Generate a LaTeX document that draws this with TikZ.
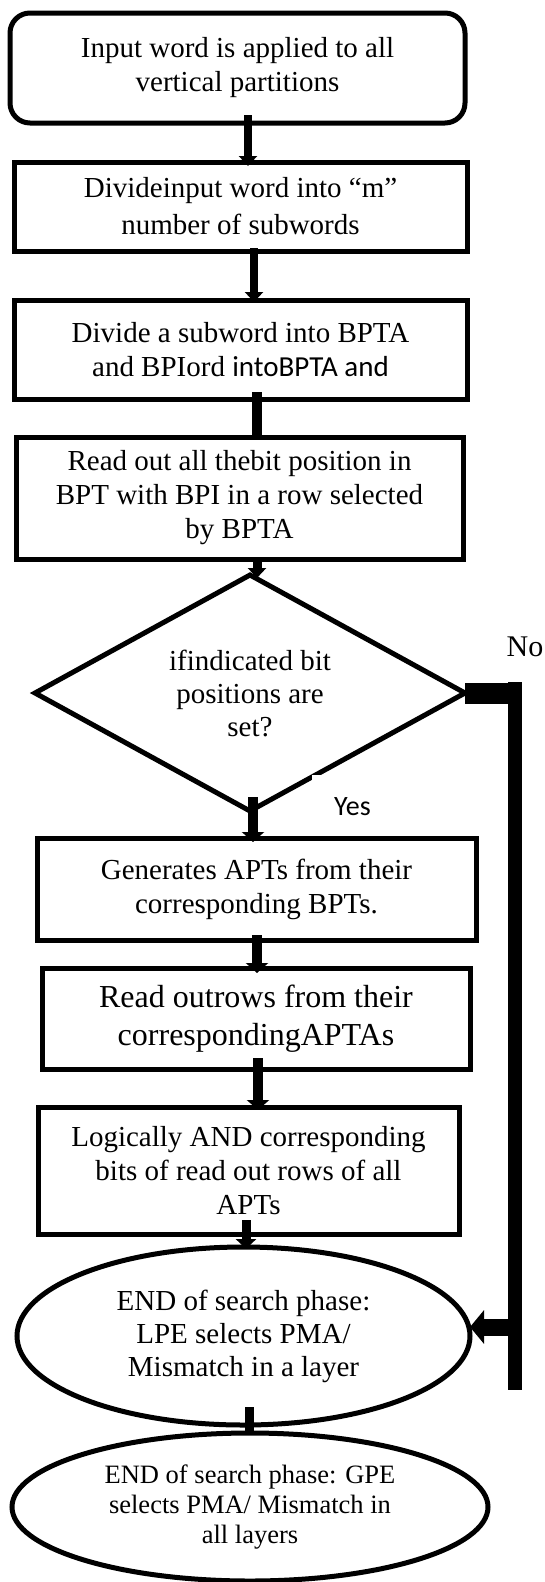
\documentclass[tikz,border=0pt]{standalone}
\usepackage{fontspec}
\setmainfont{Liberation Serif}
\newfontfamily\carlito{Carlito}
\usetikzlibrary{shapes.geometric,arrows.meta}
\begin{document}
\begin{tikzpicture}[x=1pt,y=-1pt,
  box/.style={draw, line width=5pt, rectangle, inner sep=0pt, outer sep=0pt, align=center, font=\fontsize{29}{34}\selectfont},
  dec/.style={diamond, draw, line width=5pt, aspect=1.82, minimum width=430pt, minimum height=236pt, inner sep=0pt, outer sep=0pt, align=center, font=\fontsize{29}{33}\selectfont},
  ell/.style={ellipse, draw, line width=5pt, inner sep=0pt, outer sep=0pt, align=center, font=\fontsize{29}{33}\selectfont},
  yeslbl/.style={anchor=north west, fill=white, inner xsep=22pt, inner ysep=20pt, text height=20pt, text depth=0pt, font=\carlito\fontsize{28}{28}\selectfont},
  nolbl/.style={inner sep=0pt, font=\fontsize{30}{30}\selectfont},
  conn/.style={line width=#1, -{Triangle[width=18pt,length=10pt]}},
  connbig/.style={line width=10pt, -{Triangle[width=22pt,length=10pt]}},
  plainconn/.style={line width=#1},
  nobranch/.style={line width=14pt}
]
\useasboundingbox (0,0) rectangle (545,1582);

\node[box, rounded corners=20pt, minimum width=455pt, minimum height=110pt] (top) at (237.5,68) {Input word is applied to all\\vertical partitions};
\node[box, minimum width=453pt, minimum height=89pt, font=\fontsize{29}{37}\selectfont] (b2) at (240.5,206.5) {Divideinput word into “m”\\number of subwords};
\node[box, minimum width=453pt, minimum height=99pt] (b3) at (240.5,349.5) {Divide a subword into BPTA\\and BPIord {\carlito intoBPTA and}};
\node[box, minimum width=447pt, minimum height=122pt] (b4) at (239.5,498) {Read out all thebit position in\\BPT with BPI in a row selected\\by BPTA};
\node[dec] (dia) at (250,693) {ifindicated bit\\positions are\\set?};
\node[yeslbl] (yes) at (312,775) {Yes};
\node[nolbl] (no) at (525,647) {No};
\node[box, minimum width=439pt, minimum height=102pt] (gen) at (256.5,889) {Generates APTs from their\\corresponding BPTs.};
\node[box, minimum width=428pt, minimum height=101pt, font=\fontsize{32}{38}\selectfont] (rr) at (256,1018.5) {Read outrows from their\\correspondingAPTAs};
\node[box, minimum width=421pt, minimum height=127pt] (land) at (248.5,1170.5) {Logically AND corresponding\\bits of read out rows of all\\APTs};
\node[ell, minimum width=453pt, minimum height=178pt] (e1) at (243.5,1336) {END of search phase:\\LPE selects PMA/\\Mismatch in a layer};
\node[ell, minimum width=476pt, minimum height=148pt, font=\fontsize{26.5}{30}\selectfont] (e2) at (250,1507) {END of search phase: GPE\\selects PMA/ Mismatch in\\all layers};

% vertical connectors
\draw[conn=8pt] ([xshift=10.5pt,yshift=8pt]top.south) -- ([xshift=7.5pt,yshift=-4pt]b2.north);
\draw[conn=8pt] ([xshift=13.5pt,yshift=3pt]b2.south) -- ([xshift=13.5pt,yshift=-2pt]b3.north);
\draw[plainconn=10pt] ([xshift=16.5pt,yshift=7pt]b3.south) -- ([xshift=17.5pt]b4.north);
\draw[conn=9pt] ([xshift=17.5pt]b4.south) -- ([xshift=7pt,yshift=-3pt]dia.north);
\draw[connbig] ([xshift=3pt,yshift=14pt]dia.south) -- ([xshift=-3.5pt,yshift=-4pt]gen.north);
\draw[connbig] ([xshift=0.5pt,yshift=5pt]gen.south) -- ([xshift=1pt,yshift=-5pt]rr.north);
\draw[connbig] ([xshift=2pt,yshift=11pt]rr.south) -- ([xshift=9.5pt,yshift=-3pt]land.north);
\draw[line width=9pt, -{Triangle[width=20pt,length=10pt]}] ([xshift=-2.5pt,yshift=14pt]land.south) -- ([xshift=2.5pt,yshift=-2pt]e1.north);
\draw[plainconn=9pt] ([xshift=5.5pt,yshift=18pt]e1.south) -- ([xshift=-1pt,yshift=-2pt]e2.north);

% No branch
\coordinate (ncorner) at (522,693);
\coordinate (ntop) at (515,682);
\coordinate (nbot) at (515,1390);
\coordinate (nbranch) at (515,1327);
\draw[line width=21pt] (dia.east) -- (ncorner);
\draw[nobranch] (ntop) -- (nbot);
\draw[line width=17pt, -{Triangle[width=33pt,length=14pt]}] (nbranch) -- (nbranch -| e1.east);
\end{tikzpicture}
\end{document}
